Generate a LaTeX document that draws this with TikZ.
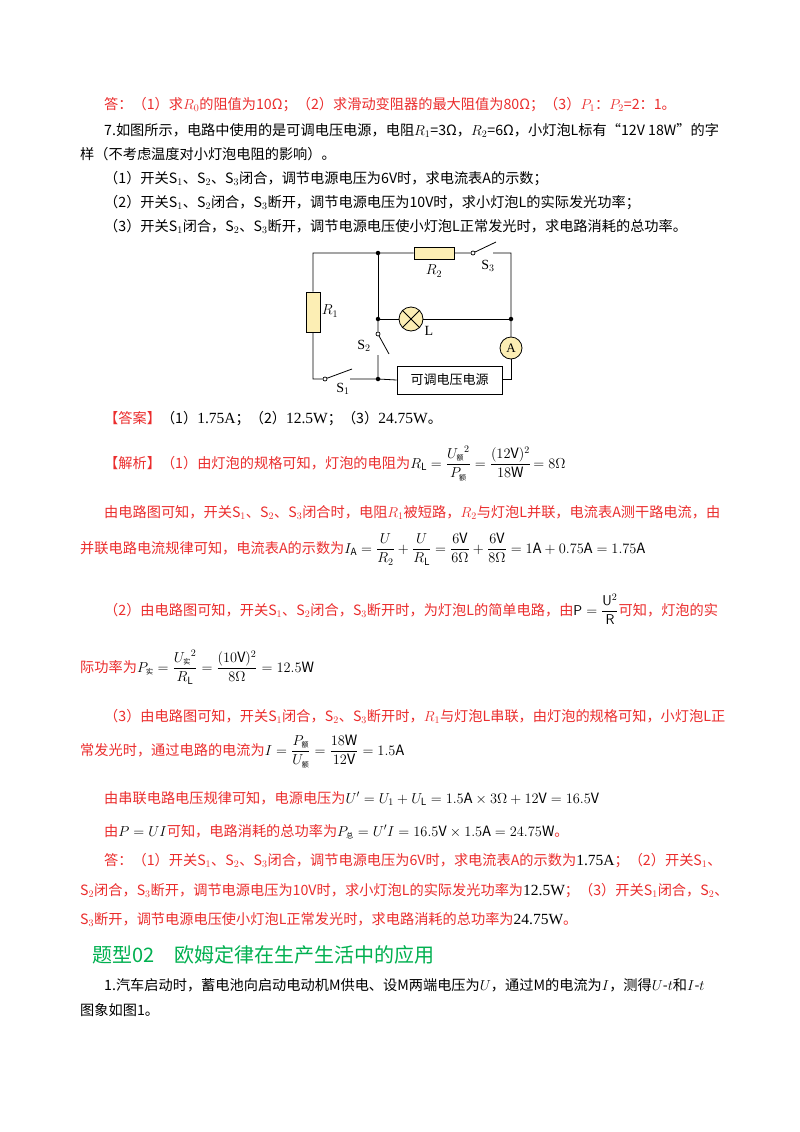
\documentclass[tikz,border=0pt]{standalone}
\usepackage{amsmath}
\usepackage{fontspec}
\setmainfont{Noto Sans CJK SC}
\newfontfamily\lat{Liberation Serif}
\definecolor{ansred}{RGB}{235,45,45}
\definecolor{headgreen}{RGB}{0,176,80}
\definecolor{compfill}{RGB}{252,238,180}
\newcommand{\csubx}[1]{\text{\fontsize{7}{7}\selectfont #1}}
\newcommand{\bignumx}[1]{{\lat\fontsize{15.5}{15}\selectfont #1}}
\begin{document}
\begin{tikzpicture}[x=1pt,y=-1pt,
  txt/.style={anchor=base west,inner sep=0pt,font=\fontsize{14.2}{15}\selectfont},
  rtxt/.style={txt,text=ansred},
  wire/.style={line width=0.8pt},
  res/.style={draw,line width=0.8pt,fill=compfill,inner sep=0pt},
  dot/.style={circle,fill,inner sep=0pt,minimum size=4.5pt},
  pivot/.style={circle,draw,fill=white,inner sep=0pt,minimum size=4pt,line width=0.7pt},
  clab/.style={inner sep=0pt,font=\lat\fontsize{14}{14}\selectfont}]
\useasboundingbox (0,0) rectangle (800,1132);
\fill[white] (0,0) rectangle (800,1132);
% text
\node[rtxt] (t1) at (104,109) {答：（1）求$R_0$的阻值为10Ω；（2）求滑动变阻器的最大阻值为80Ω；（3）$P_1$：$P_2$=2：1。};
\node[txt] (t2) at (104,135) {7.如图所示，电路中使用的是可调电压电源，电阻$R_1$=3Ω，$R_2$=6Ω，小灯泡L标有“12V 18W”的字};
\node[txt] (t3) at (80,159) {样（不考虑温度对小灯泡电阻的影响）。};
\node[txt] (t4) at (104,183) {（1）开关S$_1$、S$_2$、S$_3$闭合，调节电源电压为6V时，求电流表A的示数；};
\node[txt] (t5) at (104,207) {（2）开关S$_1$、S$_2$闭合，S$_3$断开，调节电源电压为10V时，求小灯泡L的实际发光功率；};
\node[txt] (t6) at (104,231) {（3）开关S$_1$闭合，S$_2$、S$_3$断开，调节电源电压使小灯泡L正常发光时，求电路消耗的总功率。};
% circuit
\coordinate (TL) at (313,253); \coordinate (TJ) at (378,253); \coordinate (TR) at (511,253);
\coordinate (MJ) at (378,319); \coordinate (MR) at (511,319);
\coordinate (BL) at (313,379); \coordinate (BJ) at (378,379); \coordinate (BR) at (511,379);
\node[res,minimum width=14pt,minimum height=40pt] (R1) at (313,312) {};
\node[res,minimum width=40pt,minimum height=12pt] (R2) at (434,253) {};
\node[circle,draw,line width=0.8pt,fill=compfill,minimum size=24pt,inner sep=0pt] (L) at (411,319) {};
\draw[line width=0.8pt] (L.north west)--(L.south east) (L.north east)--(L.south west);
\node[circle,draw,line width=0.8pt,fill=compfill,minimum size=22pt,inner sep=0pt,font=\lat\fontsize{13}{13}\selectfont] (A) at (511,348) {A};
\node[draw,line width=0.8pt,minimum width=105pt,minimum height=28pt,inner sep=0pt,font=\fontsize{13}{13}\selectfont] (src) at (449.5,380) {可调电压电源};
\node[pivot] (p3) at (473,253) {};
\node[pivot] (p2) at (378,334) {};
\node[pivot] (p1) at (325,379) {};
\coordinate (s3e) at (496,242); \coordinate (s3r) at (493,253);
\coordinate (s2e) at (389,354); \coordinate (s2b) at (378,355);
\coordinate (s1e) at (352,369); \coordinate (s1r) at (350,379);
\draw[wire] (R1.north)--(TL)--(TJ)--(R2.west) (R2.east)--(p3) (p3)--(s3e) (s3r)--(TR)--(MR)--(A.north);
\draw[wire] (R1.south)--(BL)--(p1) (p1)--(s1e) (s1r)--(BJ)--(src.west);
\draw[wire] (TJ)--(MJ)--(L.west) (L.east)--(MR);
\draw[wire] (MJ)--(p2) (p2)--(s2e) (s2b)--(BJ);
\draw[wire] (A.south)--(BR)--(src.east|-BR);
\foreach \c in {TJ,MJ,BJ,MR} \node[dot] at (\c) {};
\node[clab] (lR1) at (330,311) {$R_1$};
\node[clab] (lR2) at (434,271) {$R_2$};
\node[clab] (lS3) at (488,266) {S$_3$};
\node[clab] (lL) at (429,331) {L};
\node[clab] (lS2) at (364,346) {S$_2$};
\node[clab] (lS1) at (343,389) {S$_1$};
% solution
\node[txt] (a1) at (104,423) {\textcolor{ansred}{【答案】}（1）\bignumx{1.75A}；（2）\bignumx{12.5W}；（3）\bignumx{24.75W}。};
\node[txt] (a2) at (104,468) {\textcolor{ansred}{【解析】（1）由灯泡的规格可知，灯泡的电阻为}$R_{\mathrm L}=\dfrac{{U_{\csubx{额}}}^{2}}{P_{\csubx{额}}}=\dfrac{(12\mathrm V)^2}{18\mathrm W}$\,$=8\Omega$};
\node[rtxt] (a3) at (104,517) {由电路图可知，开关S$_1$、S$_2$、S$_3$闭合时，电阻$R_1$被短路，$R_2$与灯泡L并联，电流表A测干路电流，由};
\node[txt] (a4) at (80,553) {\textcolor{ansred}{并联电路电流规律可知，电流表A的示数为}$I_{\mathrm A}=\dfrac{U}{R_2}+\dfrac{U}{R_{\mathrm L}}=\dfrac{6\mathrm V}{6\Omega}+\dfrac{6\mathrm V}{8\Omega}=1\mathrm{A}+0.75\mathrm{A}=1.75\mathrm{A}$};
\node[txt] (a5) at (104,615) {\textcolor{ansred}{（2）由电路图可知，开关S$_1$、S$_2$闭合，S$_3$断开时，为灯泡L的简单电路，由}$\mathsf{P}=\dfrac{\mathsf{U}^2}{\mathsf{R}}$\textcolor{ansred}{可知，灯泡的实}};
\node[txt] (a6) at (80,672) {\textcolor{ansred}{际功率为}$P_{\csubx{实}}=\dfrac{{U_{\csubx{实}}}^{2}}{R_{\mathrm L}}=\dfrac{(10\mathrm V)^2}{8\Omega}=12.5\mathrm W$};
\node[rtxt] (a7) at (104,721) {（3）由电路图可知，开关S$_1$闭合，S$_2$、S$_3$断开时，$R_1$与灯泡L串联，由灯泡的规格可知，小灯泡L正};
\node[txt] (a8) at (80,755) {\textcolor{ansred}{常发光时，通过电路的电流为}$I=\dfrac{P_{\csubx{额}}}{U_{\csubx{额}}}=\dfrac{18\mathrm W}{12\mathrm V}=1.5\mathrm A$};
\node[txt] (a9) at (104,803) {\textcolor{ansred}{由串联电路电压规律可知，电源电压为}$U'=U_1+U_{\mathrm L}=1.5\mathrm A\times3\Omega+12\mathrm V=16.5\mathrm V$};
\node[txt] (a10) at (104,836) {\textcolor{ansred}{由}$P=UI$\textcolor{ansred}{可知，电路消耗的总功率为}$P_{\csubx{总}}=U'I=16.5\mathrm V\times1.5\mathrm A=24.75\mathrm W$\textcolor{ansred}{。}};
\node[txt] (a11) at (104,865) {\textcolor{ansred}{答：（1）开关S$_1$、S$_2$、S$_3$闭合，调节电源电压为6V时，求电流表A的示数为}\bignumx{1.75A}\textcolor{ansred}{；（2）开关S$_1$、}};
\node[txt] (a12) at (80,895) {\textcolor{ansred}{S$_2$闭合，S$_3$断开，调节电源电压为10V时，求小灯泡L的实际发光功率为}\bignumx{12.5W}\textcolor{ansred}{；（3）开关S$_1$闭合，S$_2$、}};
\node[txt] (a13) at (80,924) {\textcolor{ansred}{S$_3$断开，调节电源电压使小灯泡L正常发光时，求电路消耗的总功率为}\bignumx{24.75W}\textcolor{ansred}{。}};
\node[txt,font=\fontsize{20}{20}\selectfont,text=headgreen] (h) at (92,962) {题型02\quad 欧姆定律在生产生活中的应用};
\node[txt] (q1) at (104,990) {1.汽车启动时，蓄电池向启动电动机M供电、设M两端电压为$U$，通过M的电流为$I$，测得$U$-$t$和$I$-$t$};
\node[txt] (q2) at (80,1015) {图象如图1。};
\end{tikzpicture}
\end{document}
